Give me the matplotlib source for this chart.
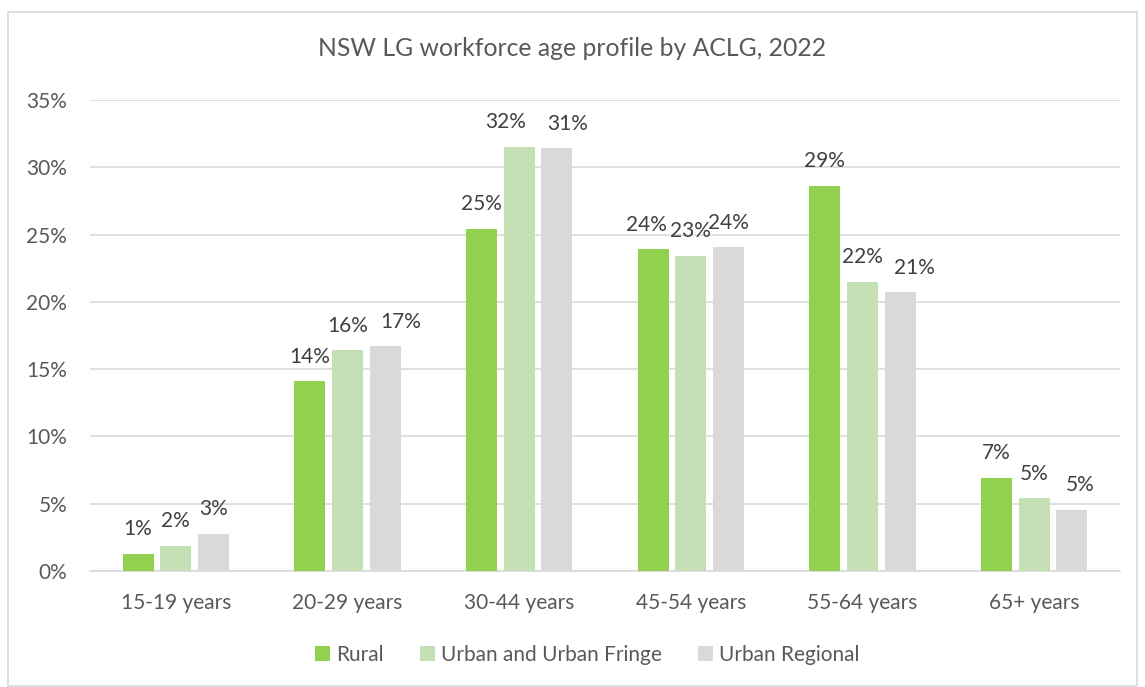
import numpy as np
import matplotlib
matplotlib.use("Agg")
import matplotlib.pyplot as plt
from matplotlib.patches import Rectangle
from matplotlib.ticker import FuncFormatter

plt.rcParams['font.family'] = ['Lato', 'DejaVu Sans']

# data
categories = ["15-19 years", "20-29 years", "30-44 years", "45-54 years", "55-64 years", "65+ years"]
series_names = ["Rural", "Urban and Urban Fringe", "Urban Regional"]
rural = [1.25, 14.1, 25.4, 23.9, 28.6, 6.9]
urban_fringe = [1.85, 16.4, 31.5, 23.4, 21.5, 5.4]
urban_regional = [2.75, 16.7, 31.4, 24.05, 20.7, 4.55]
colors = ["#92D050", "#C5E0B4", "#D9D9D9"]
txt = "#595959"

# sideways nudges of the data labels (points), as placed in the original
nudge_rural = [0, 0, 0, -5, 0, 0]
nudge_fringe = [0, 0, -10, 0, 0, 0]
nudge_regional = [0, 11, 8, 0, 10, 6]

fig = plt.figure(figsize=(11.45, 6.87), dpi=100)
# outer chart border
fig.patches.append(Rectangle((8/1145, 1-686/687), 1-16/1145, (686-12)/687,
                             transform=fig.transFigure, fill=False,
                             edgecolor="#D9D9D9", lw=1.2))

ax = fig.add_axes([90/1145, 1-571/687, (1120-90)/1145, (571-100)/687])
x = np.arange(len(categories))
w = 0.18
step = 0.22
allvals = [rural, urban_fringe, urban_regional]
nudges = [nudge_rural, nudge_fringe, nudge_regional]
for i, (vals, name) in enumerate(zip(allvals, series_names)):
    pos = x + (i - 1) * step
    bars = ax.bar(pos, vals, width=w, color=colors[i], label=name, zorder=3)
    for b, v, dx in zip(bars, vals, nudges[i]):
        ax.annotate(f"{round(v):.0f}%", (b.get_x() + b.get_width()/2, v),
                    xytext=(dx, 13.5), textcoords="offset points",
                    ha="center", va="baseline", fontsize=15, color="#404040")

ax.set_ylim(0, 35)
ax.set_xlim(-0.5, len(categories) - 0.5)
ax.set_yticks(np.arange(0, 36, 5))
ax.yaxis.set_major_formatter(FuncFormatter(lambda v, p: f"{v:.0f}%"))
ax.set_xticks(x)
ax.set_xticklabels(categories)
ax.grid(axis="y", color="#D9D9D9", lw=1.2, zorder=0)
for s in ["top", "right", "left"]:
    ax.spines[s].set_visible(False)
ax.spines["bottom"].set_color("#D9D9D9")
ax.spines["bottom"].set_linewidth(1.2)
ax.tick_params(axis="both", length=0, labelsize=15, colors=txt)
ax.tick_params(axis="x", pad=15.5)
ax.tick_params(axis="y", pad=16.5)

fig.text(0.5, 1-48/687, "NSW LG workforce age profile by ACLG, 2022",
         ha="center", va="center", fontsize=17.8, color=txt)

leg = fig.legend(loc="center", bbox_to_anchor=(0.5 + 15/1145, 1-655/687), ncol=3,
                 frameon=False, fontsize=15, handlelength=0.7, handleheight=0.7,
                 columnspacing=1.75, handletextpad=0.3)
for t in leg.get_texts():
    t.set_color(txt)

fig.savefig("out.png", dpi=100)
